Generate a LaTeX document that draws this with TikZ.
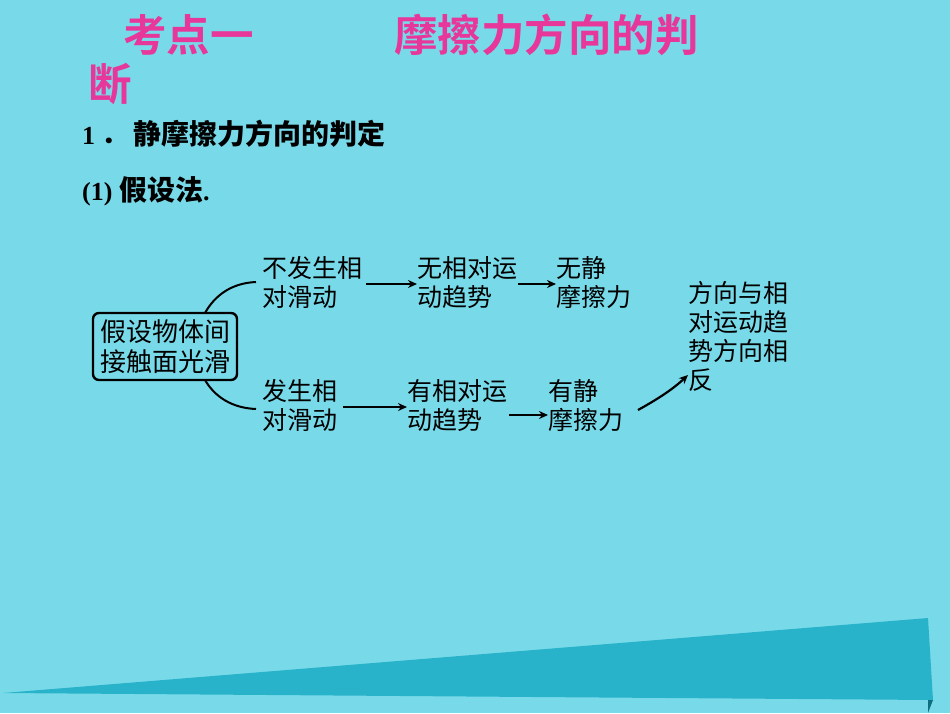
\documentclass[tikz,border=0pt]{standalone}
\usepackage{fontspec}
\newfontfamily\cjk{Noto Sans CJK SC}
\newfontfamily\cjkb{Noto Sans CJK SC Bold}
\setmainfont{Liberation Serif}
\definecolor{bg}{HTML}{78DAE9}
\definecolor{tri}{HTML}{29B3CB}
\definecolor{tridk}{HTML}{0E6F80}
\definecolor{ttl}{HTML}{E8379A}
\usetikzlibrary{arrows.meta}
\begin{document}
\begin{tikzpicture}[x=1pt,y=-1pt,
  dtxt/.style={font=\cjk\fontsize{25}{29}\selectfont,align=left,inner sep=0pt,anchor=north west},
  arr/.style={-{Stealth[length=9pt,width=8pt]},line width=2.2pt},
  title/.style={text=ttl,font=\cjkb\fontsize{43.5}{44}\selectfont,inner sep=0pt,anchor=west}]
\fill[bg] (0,0) rectangle (950,713);
\useasboundingbox (0,0) rectangle (950,713);
\fill[tri] (3,693) -- (928,618) -- (933,700) -- cycle;
\fill[tridk] (928,700) -- (933,700) -- (928,713) -- cycle;
\node[title] (t1) at (123,35) {考点一};
\node[title] (t2) at (394,35) {摩擦力方向的判};
\node[title] (t3) at (88,84) {断};
\node[inner sep=0pt,anchor=west,font=\bfseries\fontsize{26}{28}\selectfont] (h1) at (82,134) {1\hspace{6pt}{\cjkb ．\hspace{6pt}\fontsize{28}{28}\selectfont 静摩擦力方向的判定}};
\node[inner sep=0pt,anchor=west,font=\bfseries\fontsize{26}{28}\selectfont] (h2) at (82,191) {(1) {\cjkb\fontsize{28}{28}\selectfont 假设法}.};
\node[draw,line width=2.4pt,rounded corners=6pt,font=\cjk\fontsize{26}{30}\selectfont,align=center,inner sep=1pt,minimum width=144pt,minimum height=67pt] (box) at (165,346.5) {假设物体间\\接触面光滑};
\node[dtxt] (a1) at (262,256) {不发生相\\对滑动};
\node[dtxt] (a2) at (417,256) {无相对运\\动趋势};
\node[dtxt] (a3) at (556,256) {无静\\摩擦力};
\node[dtxt] (b1) at (262,379) {发生相\\对滑动};
\node[dtxt] (b2) at (407,379) {有相对运\\动趋势};
\node[dtxt] (b3) at (548,379) {有静\\摩擦力};
\node[dtxt] (c) at (688,281) {方向与相\\对运动趋\\势方向相\\反};
\coordinate (u1) at (205,313); \coordinate (u2) at (256,282);
\coordinate (l1) at (205,380); \coordinate (l2) at (256,409);
\draw[line width=2pt] (u1) .. controls (215,295) and (232,283) .. (u2);
\draw[line width=2pt] (l1) .. controls (215,397) and (232,408) .. (l2);
\draw[arr] (a1.east |- 0,284) ++(4,0) coordinate (p1) -- (p1 -| a2.west);
\draw[arr] (a2.east |- 0,284) ++(1,0) coordinate (p2) -- (p2 -| a3.west);
\draw[arr] (b1.east |- 0,407) ++(6,0) coordinate (p3) -- (p3 -| b2.west);
\draw[arr] (b2.east |- 0,415) ++(2,0) coordinate (p4) -- (p4 -| b3.west);
\draw[arr] (638,410) .. controls (656,400) and (672,390) .. (c.west |- 0,375);
\end{tikzpicture}
\end{document}
